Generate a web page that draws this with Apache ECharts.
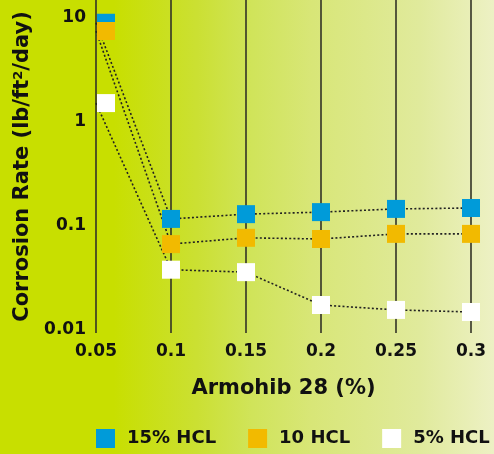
<!DOCTYPE html>
<html>
<head>
<meta charset="utf-8">
<script src="https://cdn.jsdelivr.net/npm/echarts@6/dist/echarts.min.js"></script>
<style>
  html, body { margin: 0; padding: 0; }
  #chart {
    width: 494px; height: 454px;
    background: linear-gradient(to right, #c8df00 0%, #c8df00 23%, #cbe033 40%, #d0e45a 51%, #d8e677 63%, #e0ea9c 85%, #edf1c4 100%);
  }
</style>
</head>
<body>
<div id="chart"></div>
<script>
// Armohib 28 concentration (%)
const categories = ['0.05', '0.1', '0.15', '0.2', '0.25', '0.3'];
// Corrosion rate, lb/ft2/day
const hcl15 = [9.0, 0.117, 0.130, 0.136, 0.146, 0.149];
const hcl10 = [7.5, 0.067, 0.077, 0.075, 0.084, 0.084];
const hcl5  = [1.52, 0.038, 0.036, 0.0174, 0.0156, 0.0149];
const yTicks = [0.01, 0.1, 1, 10];

const seriesNames = ['15% HCL', '10 HCL', '5% HCL'];
const seriesColors = ['#009bd9', '#f2ba00', '#ffffff'];
const seriesData = [hcl15, hcl10, hcl5];

const FONT = 'DejaVu Sans';
const INK = '#111';

// axis range padded so the category rules reach the top edge of the plot
const yMin = Math.pow(10, -2 - 3 / 104);
const yMax = Math.pow(10, 1 + 18 / 104);

const chart = echarts.init(document.getElementById('chart'), null, { renderer: 'canvas' });

chart.setOption({
  animation: false,
  backgroundColor: 'transparent',
  grid: { left: 96, right: 23, top: 0, bottom: 121 },
  legend: {
    left: 96, top: 429, width: 600, padding: 0,
    itemWidth: 19, itemHeight: 19, itemGap: 32,
    icon: 'rect',
    data: seriesNames,
    textStyle: { fontFamily: FONT, fontWeight: 'bold', fontSize: 18, color: INK, padding: [3, 0, 0, 7] }
  },
  xAxis: {
    type: 'category',
    data: categories,
    boundaryGap: false,
    name: 'Armohib 28 (%)',
    nameLocation: 'middle',
    nameGap: 45,
    nameTextStyle: { fontFamily: FONT, fontWeight: 'bold', fontSize: 21, color: INK },
    axisLine: { show: false },
    axisTick: { show: false },
    axisLabel: { fontFamily: FONT, fontWeight: 'bold', fontSize: 17, color: INK, margin: 10 },
    splitLine: { show: true, lineStyle: { color: '#333326', width: 1.6 } }
  },
  yAxis: {
    type: 'log',
    logBase: 10,
    min: yMin,
    max: yMax,
    name: 'Corrosion Rate (lb/ft{sup|2}/day)',
    nameLocation: 'middle',
    nameRotate: 90,
    nameGap: 50,
    nameTextStyle: {
      fontFamily: FONT, fontWeight: 'bold', fontSize: 21, color: INK,
      rich: { sup: { fontFamily: FONT, fontWeight: 'bold', fontSize: 13, color: INK, verticalAlign: 'top', padding: [0, 0, 9, 0] } }
    },
    axisLine: { show: false },
    axisTick: { show: false },
    splitLine: { show: false },
    axisLabel: {
      fontFamily: FONT, fontWeight: 'bold', fontSize: 17, color: INK, margin: 10,
      showMinLabel: false, showMaxLabel: false,
      formatter: function (v) {
        for (const t of yTicks) {
          if (Math.abs(Math.log10(v) - Math.log10(t)) < 1e-6) return String(t);
        }
        return '';
      }
    }
  },
  series: seriesNames.map(function (name, i) {
    return {
      name: name,
      type: 'line',
      data: seriesData[i].map(function (v, j) {
        return j === 0 ? { value: v, symbolOffset: [10, 0] } : v;
      }),
      symbol: 'rect',
      symbolSize: 18,
      showAllSymbol: true,
      clip: false,
      itemStyle: { color: seriesColors[i], borderWidth: 0 },
      lineStyle: { color: '#222', width: 1.6, type: [2, 2.2] },
      emphasis: { disabled: true }
    };
  })
});
</script>
</body>
</html>
